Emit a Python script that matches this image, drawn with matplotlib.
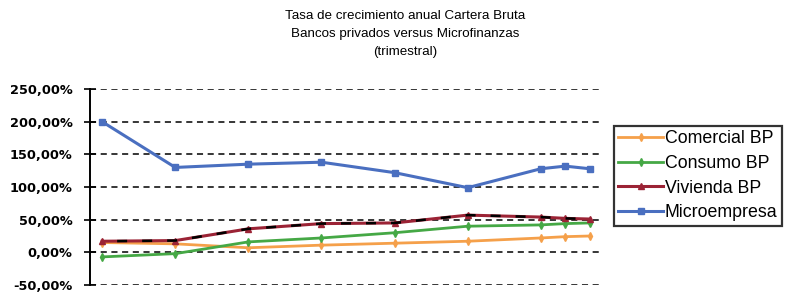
import matplotlib
matplotlib.use("Agg")
import matplotlib.pyplot as plt
from matplotlib.ticker import FuncFormatter

plt.rcParams["font.family"] = ["Liberation Sans", "DejaVu Sans"]

# meses desde el primer dato
meses = [0, 12, 24, 36, 48, 60, 72, 76, 80]

comercial = [15, 13, 7, 11, 14, 17, 22, 24, 25]
consumo = [-7, -2, 16, 22, 30, 40, 42, 44, 45]
vivienda = [17, 18, 36, 44, 45, 57, 54, 52, 51]
microempresa = [200, 130, 135, 138, 122, 99, 128, 132, 128]

ticks_y = [-50, 0, 50, 100, 150, 200, 250]

fig = plt.figure(figsize=(7.85, 2.92), dpi=100)
ax = fig.add_axes([0.1146, 0.024, 0.652, 0.671])

ax.plot(meses, comercial, color="#F5A04A", lw=2, marker="d", ms=4, label="Comercial BP")
ax.plot(meses, consumo, color="#45A845", lw=2, marker="d", ms=4, label="Consumo BP")
ax.plot(meses, vivienda, color="#9B2335", lw=2.2, marker="^", ms=5, label="Vivienda BP")
ax.plot(meses, vivienda, color="black", lw=1.8, ls=(4, (4, 6)))
ax.plot(meses, microempresa, color="#4A6FC0", lw=2.2, marker="s", ms=4, label="Microempresa")

ax.set_xlim(-2, 82)
ax.set_ylim(-50, 250)
ax.set_yticks(ticks_y)
ax.yaxis.set_major_formatter(FuncFormatter(lambda v, p: f"{v:.2f}%".replace(".", ",")))
ax.set_xticks([])
ax.grid(axis="y", color="black", ls=(0, (4, 3)), lw=1.1)
for s in ["top", "right", "bottom"]:
    ax.spines[s].set_visible(False)
ax.spines["left"].set_linewidth(1.4)
ax.tick_params(axis="y", direction="inout", length=9, width=1.2, pad=8)
for lbl in ax.get_yticklabels():
    lbl.set_family("DejaVu Sans")
    lbl.set_fontweight("bold")
    lbl.set_fontsize(9.3)
ax.set_axisbelow(True)

fig.text(0.516, 0.965, "Tasa de crecimiento anual Cartera Bruta\nBancos privados versus Microfinanzas\n(trimestral)",
         ha="center", va="top", multialignment="center", fontsize=9.6, linespacing=1.68)

leg = fig.legend(loc="upper left", bbox_to_anchor=(0.782, 0.57), fontsize=12.8,
                 frameon=True, fancybox=False, edgecolor="black", borderpad=0.25,
                 handlelength=2.5, handletextpad=0.1, labelspacing=0.44, borderaxespad=0)
leg.get_frame().set_linewidth(1.6)

fig.savefig("out.png", dpi=100)
